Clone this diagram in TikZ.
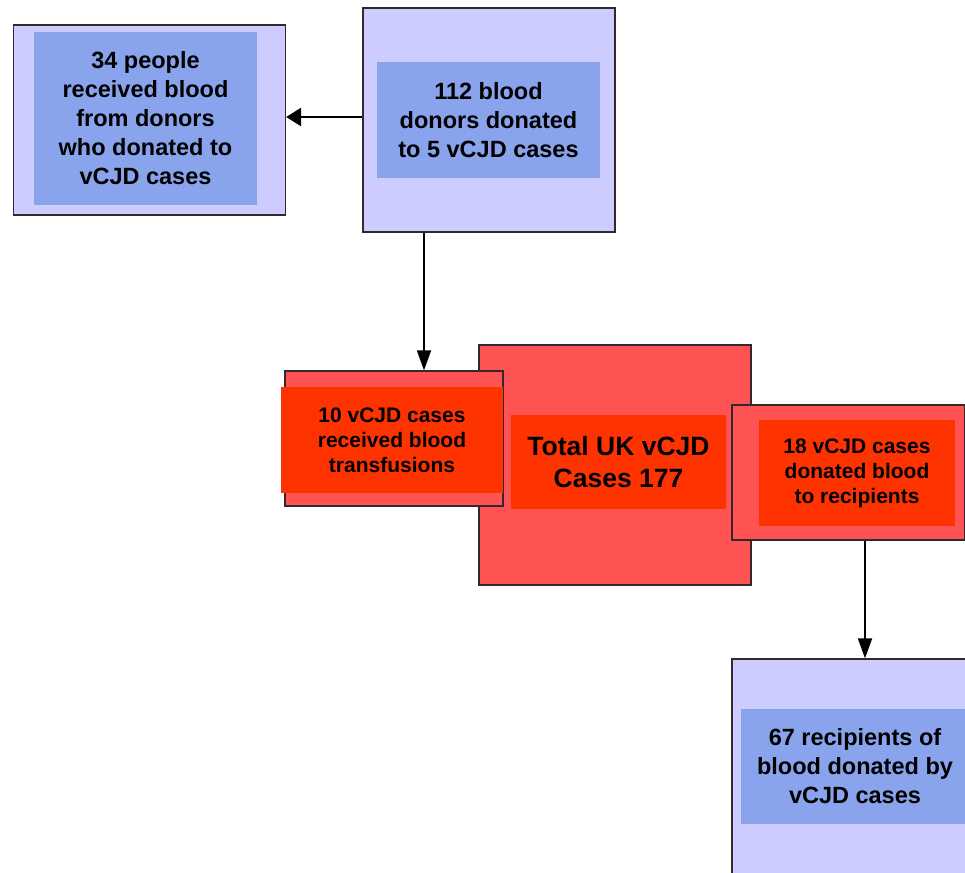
\documentclass[tikz,border=0pt]{standalone}
\usepackage{fontspec}
\setmainfont{Liberation Sans}
\usetikzlibrary{arrows.meta}
\definecolor{lavender}{RGB}{204,204,255}
\definecolor{paneblue}{RGB}{137,164,236}
\definecolor{softred}{RGB}{255,82,82}
\definecolor{hotred}{RGB}{255,51,0}
\definecolor{edge}{RGB}{50,40,45}
\tikzset{
  frame/.style={draw=edge, line width=1.3pt, inner sep=0pt},
  bluefrm/.style={frame, fill=lavender},
  redfrm/.style={frame, fill=softred},
  pane/.style={inner sep=0pt, align=center, font=\bfseries\fontsize{23.5}{29}\selectfont},
  bluepane/.style={pane, fill=paneblue},
  redpane/.style={pane, fill=hotred, font=\bfseries\fontsize{21}{25}\selectfont},
  bigpane/.style={pane, fill=hotred, font=\bfseries\fontsize{26.5}{32}\selectfont},
  harr/.style={draw=black, line width=2.8pt, -{Triangle[length=15pt,width=18pt]}},
  varr/.style={draw=black, line width=1.8pt, -{Triangle[length=20pt,width=14pt]}}
}
\begin{document}
\begin{tikzpicture}[x=1pt,y=-1pt]
\useasboundingbox (0,0) rectangle (965,872);
\fill[white] (0,0) rectangle (965,872);
\clip (0,0) rectangle (965,872);

% people who received blood from implicated donors
\node[bluefrm, minimum width=272pt, minimum height=190pt] (a) at (149.5,120) {};
\node[bluepane, minimum width=223pt, minimum height=173pt] (ain) at (145.5,118.5)
  {34 people\\received blood\\from donors\\who donated to\\vCJD cases};

% donors to vCJD cases
\node[bluefrm, minimum width=252pt, minimum height=224pt] (b) at (489,120) {};
\node[bluepane, minimum width=223pt, minimum height=116pt] (bin) at (488.5,120)
  {112 blood\\donors donated\\to 5 vCJD cases};

% total cases
\node[redfrm, minimum width=272pt, minimum height=240pt] (d) at (615,465) {};
\node[bigpane, minimum width=215pt, minimum height=94pt] (din) at (618.5,462)
  {Total UK vCJD\\Cases 177};

% cases who received transfusions
\node[redfrm, minimum width=218pt, minimum height=135pt] (c) at (394,438.5) {};
\node[redpane, minimum width=222pt, minimum height=106pt] (cin) at (392,440)
  {10 vCJD cases\\received blood\\transfusions};

% cases who donated blood
\node[redfrm, minimum width=233pt, minimum height=135pt] (e) at (848.5,472.5) {};
\node[redpane, minimum width=196pt, minimum height=106pt] (ein) at (857,473)
  {18 vCJD cases\\donated blood\\to recipients};

% recipients of blood from vCJD cases
\node[bluefrm, minimum width=260pt, minimum height=240pt] (f) at (862,779) {};
\node[bluepane, minimum width=228pt, minimum height=115pt] (fin) at (855,766.5)
  {67 recipients of\\blood donated by\\vCJD cases};

% connectors
\draw[harr] ([yshift=3pt]b.west) -- ([yshift=3pt]a.east);
\draw[varr] ([xshift=-65pt]b.south) -- ([xshift=-65pt]b.south |- c.north);
\draw[varr] ([xshift=16.5pt]e.south) -- ([xshift=16.5pt]e.south |- f.north);
\end{tikzpicture}
\end{document}
